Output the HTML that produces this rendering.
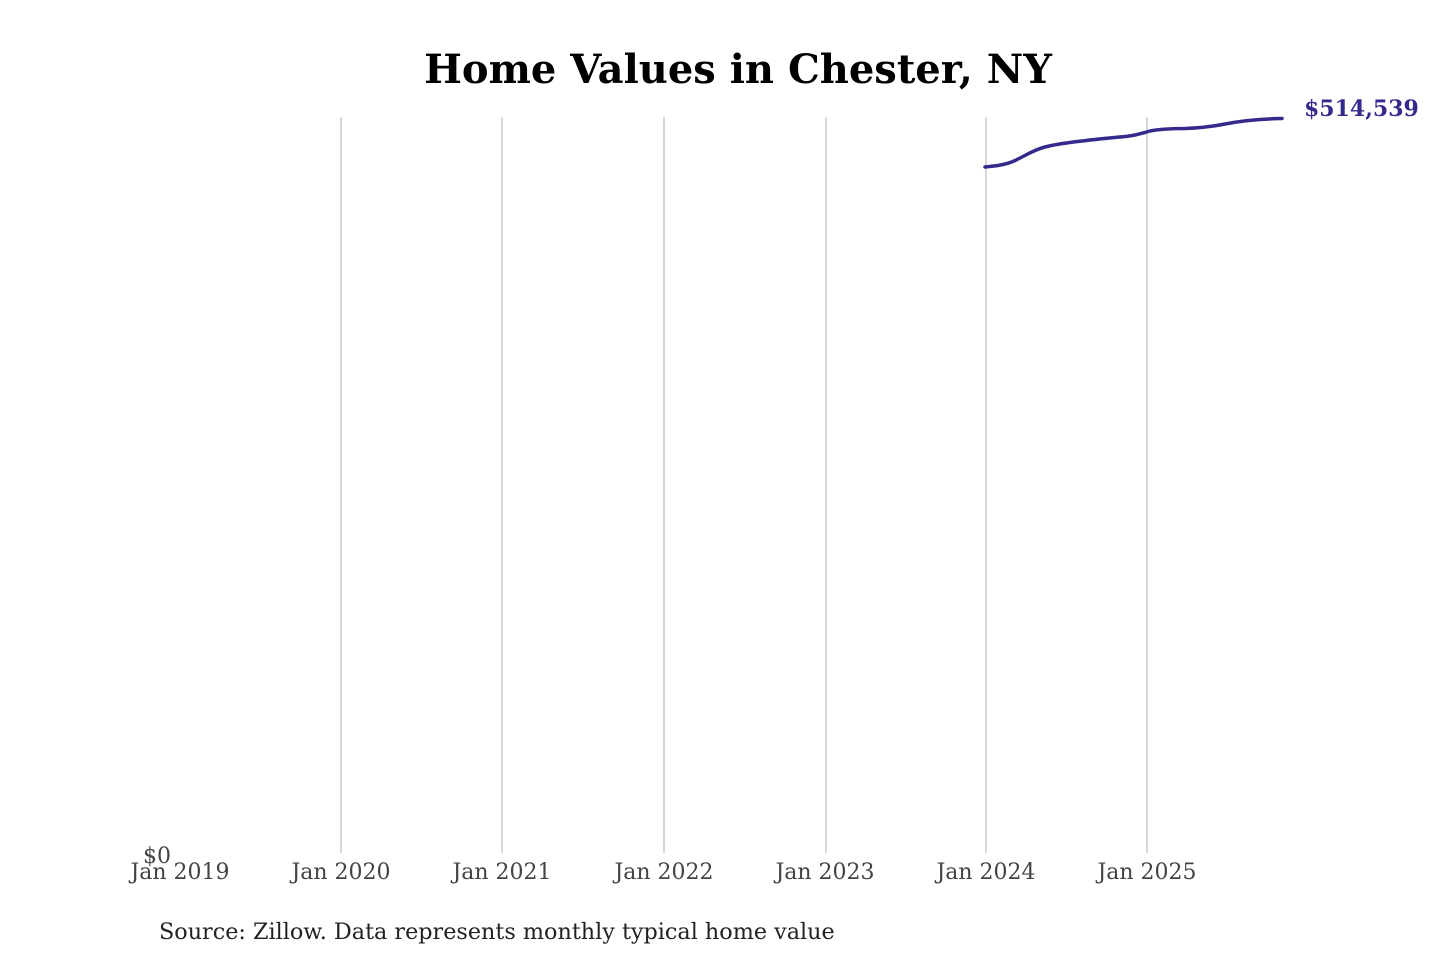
<!DOCTYPE html>
<html><head><style>
body{margin:0;background:#fff;}
</style></head><body>
<svg width="1440" height="960" xmlns="http://www.w3.org/2000/svg" style="display:block">
<rect width="1440" height="960" fill="#fff"/>
<text x="738" y="83" text-anchor="middle" font-family="DejaVu Serif, serif" font-weight="bold" font-size="40" fill="#000">Home Values in Chester, NY</text>
<g stroke="#c4c4c4" stroke-width="1.3">
<line x1="341" y1="117" x2="341" y2="853"/>
<line x1="502" y1="117" x2="502" y2="853"/>
<line x1="664" y1="117" x2="664" y2="853"/>
<line x1="826" y1="117" x2="826" y2="853"/>
<line x1="986" y1="117" x2="986" y2="853"/>
<line x1="1147" y1="117" x2="1147" y2="853"/>
</g>
<path d="M985,167 C995,166 1005,165 1014,161 C1025,156 1033,150 1045,147 C1060,143 1075,142 1090,140 C1100,139 1108,138 1120,137 C1133,136 1140,134 1150,131 C1160,129 1170,128.5 1185,128.5 C1200,128 1210,127 1225,124 C1240,121 1255,119 1282,118.5" fill="none" stroke="#342a8c" stroke-width="3.5" stroke-linecap="round"/>
<text x="1304" y="116" font-family="DejaVu Serif, serif" font-weight="bold" font-size="22" fill="#342a8c">$514,539</text>
<g font-family="DejaVu Serif, serif" font-size="22" fill="#444" text-anchor="middle">
<text x="157" y="863">$0</text>
<text x="180" y="879">Jan 2019</text>
<text x="341" y="879">Jan 2020</text>
<text x="502" y="879">Jan 2021</text>
<text x="664" y="879">Jan 2022</text>
<text x="825" y="879">Jan 2023</text>
<text x="986" y="879">Jan 2024</text>
<text x="1147" y="879">Jan 2025</text>
</g>
<text x="159" y="939" font-family="DejaVu Serif, serif" font-size="22.3" fill="#222">Source: Zillow. Data represents monthly typical home value</text>
</svg>
</body></html>
